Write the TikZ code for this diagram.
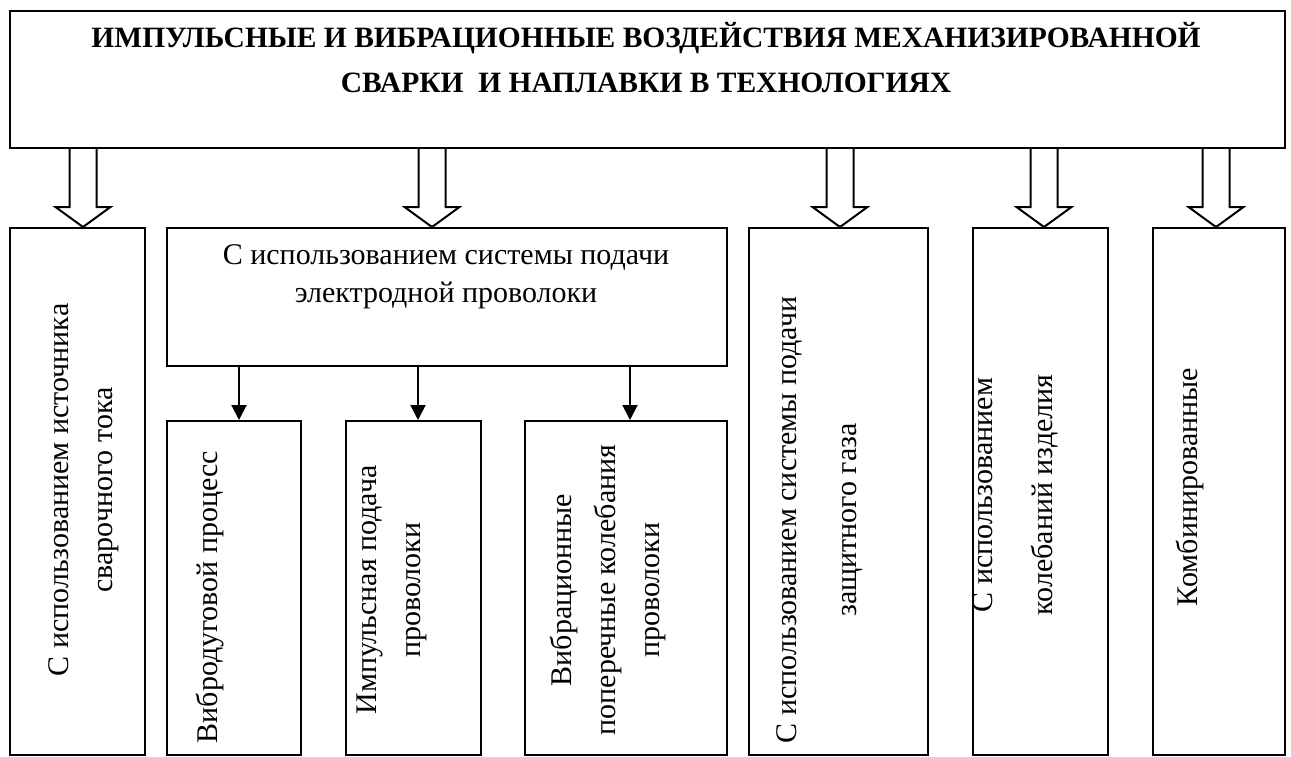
\documentclass[tikz,border=0pt]{standalone}
\usepackage{fontspec}
\setmainfont{Liberation Serif}
\usetikzlibrary{calc,arrows.meta}
\begin{document}
\begin{tikzpicture}[x=1pt,y=-1pt,
  box/.style={draw, line width=2pt, inner sep=0pt, anchor=north west},
  barrow/.style={draw, line width=2pt, line join=miter},
  sarrow/.style={line width=2pt, -{Triangle[length=15pt,width=15pt]}},
  vtxt/.style={rotate=90, align=center, font=\fontsize{30}{44}\selectfont, inner sep=0pt},
  wide/.style={font=\fontsize{30}{60}\selectfont},
]
\useasboundingbox (0,0) rectangle (1291,756);
% boxes
\node[box, minimum width=1275pt, minimum height=137pt] (top) at (9,10) {};
\node[box, minimum width=135pt, minimum height=527pt] (b1) at (9,227) {};
\node[box, minimum width=560pt, minimum height=138pt] (b2) at (166,227) {};
\node[box, minimum width=134pt, minimum height=334pt] (s1) at (166,420) {};
\node[box, minimum width=135pt, minimum height=334pt] (s2) at (345,420) {};
\node[box, minimum width=202pt, minimum height=334pt] (s3) at (524,420) {};
\node[box, minimum width=179pt, minimum height=527pt] (b3) at (748,227) {};
\node[box, minimum width=135pt, minimum height=527pt] (b4) at (972,227) {};
\node[box, minimum width=132pt, minimum height=527pt] (b5) at (1152,227) {};
% texts
\node[font=\fontsize{29.5}{45}\selectfont\bfseries, align=center, anchor=base, inner sep=0pt] (title) at (646,92)
  {ИМПУЛЬСНЫЕ И ВИБРАЦИОННЫЕ ВОЗДЕЙСТВИЯ МЕХАНИЗИРОВАННОЙ\\СВАРКИ \ И НАПЛАВКИ В ТЕХНОЛОГИЯХ};
\node[font=\fontsize{30}{38}\selectfont, align=center, anchor=base, inner sep=0pt] (t2) at (446,302)
  {С использованием системы подачи\\электродной проволоки};
\node[vtxt] (l1) at (84,490) {С использованием источника\\сварочного тока};
\node[vtxt] (l2) at (210,597) {Вибродуговой процесс};
\node[vtxt] (l3) at (392,590) {Импульсная подача\\проволоки};
\node[vtxt] (l4) at (608,590) {Вибрационные\\поперечные колебания\\проволоки};
\node[vtxt, wide] (l5) at (820,520) {С использованием системы подачи\\защитного газа};
\node[vtxt, wide] (l6) at (1015,495) {С использованием\\колебаний изделия};
\node[vtxt] (l7) at (1190,487) {Комбинированные};
% block arrows
\foreach \b/\dx [count=\i] in {b1/5.5, b2/-15, b3/1.5, b4/3.5, b5/-3} {
  \coordinate (tip\i) at ($(\b.north)+(\dx,0)$);
  \coordinate (root\i) at (tip\i |- top.south);
  \draw[barrow] ([xshift=-13.5pt]root\i) -- ([xshift=-13.5pt,yshift=20pt]tip\i)
    -- ([xshift=-27.5pt,yshift=20pt]tip\i) -- (tip\i)
    -- ([xshift=27.5pt,yshift=20pt]tip\i) -- ([xshift=13.5pt,yshift=20pt]tip\i)
    -- ([xshift=13.5pt]root\i);
}
% small arrows
\foreach \s/\dx [count=\i] in {s1/5, s2/4.5, s3/4} {
  \coordinate (a\i) at ($(\s.north)+(\dx,0)$);
  \draw[sarrow] (a\i |- b2.south) -- (a\i);
}
\end{tikzpicture}
\end{document}
